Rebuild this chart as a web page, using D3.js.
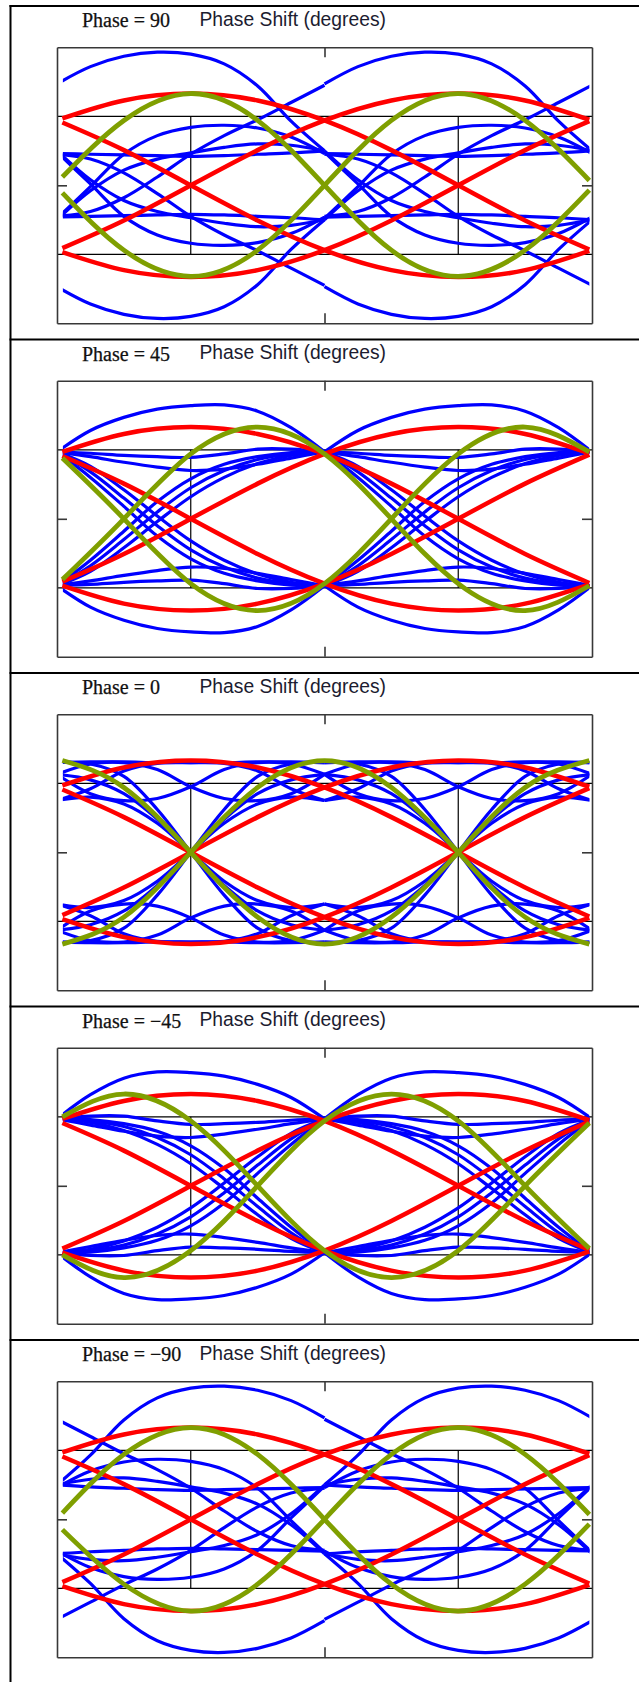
<!DOCTYPE html>
<html>
<head>
<meta charset="utf-8">
<script src="https://cdn.jsdelivr.net/npm/d3@7"></script>
<style>
  body { margin: 0; background: #fff; }
  .axis path, .axis line { stroke: #383838; stroke-width: 1.6; }
</style>
</head>
<body>
<div id="chart"></div>
<script>
// ---- data ----
var phaseLabels = ["Phase = 90", "Phase = 45", "Phase = 0", "Phase = \u221245", "Phase = \u221290"];
var axisTitle = "Phase Shift (degrees)";
var xTicks = [1], yTicks = [0], gridX = [0.5, 1.5], gridY = [-1, 1];

// red and green traces, sampled along the whole window
var tFull = [0.02, 0.25, 0.5, 0.75, 1, 1.25, 1.5, 1.75, 1.99];
var redTraces = [
  [0.97, 1.23, 1.33, 1.23, 0.94, 0.51, 0.00, -0.51, -0.93],
  [-0.91, -0.51, 0.00, 0.51, 0.94, 1.23, 1.33, 1.23, 0.95],
  [-0.97, -1.23, -1.33, -1.23, -0.94, -0.51, 0.00, 0.51, 0.93],
  [0.91, 0.51, 0.00, -0.51, -0.94, -1.23, -1.33, -1.23, -0.95]
];
var green90 = [[0.12, 0.94, 1.33, 0.94, 0.00, -0.94, -1.32, -0.94, -0.07],
               [-0.11, -0.94, -1.32, -0.94, 0.00, 0.94, 1.33, 0.94, 0.07]];
var green45 = [[-0.88, 0.00, 0.94, 1.33, 0.94, 0.00, -0.94, -1.33, -0.97],
               [0.88, 0.00, -0.94, -1.33, -0.94, 0.00, 0.94, 1.33, 0.97]];
var green0 = [[1.33, 0.94, 0.00, -0.94, -1.33, -0.94, 0.00, 0.94, 1.33],
              [-1.33, -0.94, 0.00, 0.94, 1.33, 0.94, 0.00, -0.94, -1.33]];
var greenM45 = [[1.00, 1.33, 0.94, 0.00, -0.94, -1.33, -0.94, 0.00, 0.91],
                [-1.00, -1.33, -0.94, 0.00, 0.94, 1.33, 0.94, 0.00, -0.91]];
var greenM90 = [[0.09, 0.94, 1.33, 0.94, 0.00, -0.94, -1.33, -0.94, -0.07],
                [-0.15, -0.94, -1.33, -0.94, 0.00, 0.94, 1.33, 0.94, 0.07]];

// blue traces repeat every symbol, so one symbol is sampled and laid twice
var uGrid = [0, 0.125, 0.25, 0.375, 0.5, 0.625, 0.75, 0.875, 1];
var symbolStarts = [0, 1];
var blue90 = [
  [1.47, 1.72, 1.87, 1.93, 1.90, 1.76, 1.44, 0.93, 0.50],
  [0.50, 0.08, -0.22, -0.38, -0.47, -0.55, -0.60, -0.58, -0.50],
  [0.48, 0.02, -0.45, -0.72, -0.84, -0.87, -0.83, -0.70, -0.46],
  [0.46, 0.45, 0.44, 0.43, 0.42, 0.43, 0.45, 0.47, 0.50],
  [-0.45, -0.38, -0.18, 0.12, 0.45, 0.72, 0.95, 1.20, 1.45],
  [-1.47, -1.72, -1.87, -1.93, -1.90, -1.76, -1.44, -0.93, -0.50],
  [-0.50, -0.08, 0.22, 0.38, 0.47, 0.55, 0.60, 0.58, 0.50],
  [-0.48, -0.02, 0.45, 0.72, 0.84, 0.87, 0.83, 0.70, 0.46],
  [-0.46, -0.45, -0.44, -0.43, -0.42, -0.43, -0.45, -0.47, -0.50],
  [0.45, 0.38, 0.18, -0.12, -0.45, -0.72, -0.95, -1.20, -1.45]
];
var blue45 = [
  [0.97, 1.28, 1.47, 1.59, 1.64, 1.65, 1.56, 1.32, 0.97],
  [0.97, 0.90, 0.82, 0.75, 0.70, 0.72, 0.79, 0.88, 0.97],
  [0.97, 0.95, 0.92, 0.90, 0.89, 0.94, 1.01, 1.01, 0.97],
  [0.97, 0.60, 0.18, -0.25, -0.58, -0.79, -0.90, -0.96, -0.97],
  [0.97, 0.68, 0.30, -0.10, -0.45, -0.70, -0.86, -0.94, -0.97],
  [0.97, 0.76, 0.42, 0.04, -0.32, -0.60, -0.80, -0.92, -0.97],
  [-0.97, -1.28, -1.47, -1.59, -1.64, -1.65, -1.56, -1.32, -0.97],
  [-0.97, -0.90, -0.82, -0.75, -0.70, -0.72, -0.79, -0.88, -0.97],
  [-0.97, -0.95, -0.92, -0.90, -0.89, -0.94, -1.01, -1.01, -0.97],
  [-0.97, -0.60, -0.18, 0.25, 0.58, 0.79, 0.90, 0.96, 0.97],
  [-0.97, -0.68, -0.30, 0.10, 0.45, 0.70, 0.86, 0.94, 0.97],
  [-0.97, -0.76, -0.42, -0.04, 0.32, 0.60, 0.80, 0.92, 0.97]
];
var blue0 = [
  [1.30, 1.31, 1.31, 1.30, 1.30, 1.30, 1.31, 1.31, 1.30],
  [0.75, 0.92, 1.18, 1.29, 1.30, 1.29, 1.18, 0.92, 0.75],
  [1.13, 1.28, 1.30, 1.20, 0.95, 0.78, 0.75, 0.85, 1.13],
  [1.13, 0.85, 0.75, 0.78, 0.95, 1.20, 1.30, 1.28, 1.13],
  [1.30, 1.28, 1.10, 0.62, 0.00, -0.62, -1.10, -1.28, -1.30],
  [1.13, 1.05, 0.85, 0.48, 0.00, -0.48, -0.85, -1.05, -1.13],
  [0.75, 0.80, 0.70, 0.42, 0.00, -0.42, -0.70, -0.80, -0.75],
  [-1.30, -1.31, -1.31, -1.30, -1.30, -1.30, -1.31, -1.31, -1.30],
  [-0.75, -0.92, -1.18, -1.29, -1.30, -1.29, -1.18, -0.92, -0.75],
  [-1.13, -1.28, -1.30, -1.20, -0.95, -0.78, -0.75, -0.85, -1.13],
  [-1.13, -0.85, -0.75, -0.78, -0.95, -1.20, -1.30, -1.28, -1.13],
  [-1.30, -1.28, -1.10, -0.62, 0.00, 0.62, 1.10, 1.28, 1.30],
  [-1.13, -1.05, -0.85, -0.48, 0.00, 0.48, 0.85, 1.05, 1.13],
  [-0.75, -0.80, -0.70, -0.42, 0.00, 0.42, 0.70, 0.80, 0.75]
];
var blueM45 = [
  [0.97, 1.32, 1.56, 1.65, 1.64, 1.59, 1.47, 1.28, 0.97],
  [0.97, 0.88, 0.79, 0.72, 0.70, 0.75, 0.82, 0.90, 0.97],
  [0.97, 1.01, 1.01, 0.94, 0.89, 0.90, 0.92, 0.95, 0.97],
  [-0.97, -0.96, -0.90, -0.79, -0.58, -0.25, 0.18, 0.60, 0.97],
  [-0.97, -0.94, -0.86, -0.70, -0.45, -0.10, 0.30, 0.68, 0.97],
  [-0.97, -0.92, -0.80, -0.60, -0.32, 0.04, 0.42, 0.76, 0.97],
  [-0.97, -1.32, -1.56, -1.65, -1.64, -1.59, -1.47, -1.28, -0.97],
  [-0.97, -0.88, -0.79, -0.72, -0.70, -0.75, -0.82, -0.90, -0.97],
  [-0.97, -1.01, -1.01, -0.94, -0.89, -0.90, -0.92, -0.95, -0.97],
  [0.97, 0.96, 0.90, 0.79, 0.58, 0.25, -0.18, -0.60, -0.97],
  [0.97, 0.94, 0.86, 0.70, 0.45, 0.10, -0.30, -0.68, -0.97],
  [0.97, 0.92, 0.80, 0.60, 0.32, -0.04, -0.42, -0.76, -0.97]
];
var blueM90 = [
  [0.50, 0.93, 1.44, 1.76, 1.90, 1.93, 1.87, 1.72, 1.47],
  [-0.50, -0.58, -0.60, -0.55, -0.47, -0.38, -0.22, 0.08, 0.50],
  [-0.46, -0.70, -0.83, -0.87, -0.84, -0.72, -0.45, 0.02, 0.48],
  [0.50, 0.47, 0.45, 0.43, 0.42, 0.43, 0.44, 0.45, 0.46],
  [1.45, 1.20, 0.95, 0.72, 0.45, 0.12, -0.18, -0.38, -0.45],
  [-0.50, -0.93, -1.44, -1.76, -1.90, -1.93, -1.87, -1.72, -1.47],
  [0.50, 0.58, 0.60, 0.55, 0.47, 0.38, 0.22, -0.08, -0.50],
  [0.46, 0.70, 0.83, 0.87, 0.84, 0.72, 0.45, -0.02, -0.48],
  [-0.50, -0.47, -0.45, -0.43, -0.42, -0.43, -0.44, -0.45, -0.46],
  [-1.45, -1.20, -0.95, -0.72, -0.45, -0.12, 0.18, 0.38, 0.45]
];

var panels = [
  {label: phaseLabels[0], blue: blue90, green: green90},
  {label: phaseLabels[1], blue: blue45, green: green45},
  {label: phaseLabels[2], blue: blue0, green: green0},
  {label: phaseLabels[3], blue: blueM45, green: greenM45},
  {label: phaseLabels[4], blue: blueM90, green: greenM90}
];

// ---- layout ----
var width = 639, height = 1682;
var firstTop = 6, panelStep = 333.5;

var xScale = d3.scaleLinear().domain([0, 2]).range([57, 592]);
var yScale = d3.scaleLinear().domain([-2, 2]).range([317.3, 41.3]);

var svg = d3.select("#chart").append("svg")
    .attr("width", width)
    .attr("height", height);

// table rules
svg.append("line")
   .attr("x1", 10.5).attr("x2", 10.5).attr("y1", 5).attr("y2", height)
   .attr("stroke", "#000").attr("stroke-width", 2);

var fullLine = d3.line()
    .x(function(d, i) { return xScale(tFull[i]); })
    .y(function(d) { return yScale(d); })
    .curve(d3.curveNatural);

panels.forEach(function(p, k) {
  var top = firstTop + k * panelStep;
  var g = svg.append("g").attr("transform", "translate(0," + top + ")");

  g.append("line")
   .attr("x1", 9.5).attr("x2", width).attr("y1", 0).attr("y2", 0)
   .attr("stroke", "#000").attr("stroke-width", 2);

  g.append("text")
   .attr("x", 82).attr("y", 21)
   .style("font-family", "'Liberation Serif', 'Times New Roman', serif")
   .style("font-size", "20px")
   .attr("fill", "#111")
   .attr("stroke", "#111").attr("stroke-width", 0.25)
   .text(p.label);

  g.append("text")
   .attr("x", 199.5).attr("y", 19.5)
   .style("font-family", "'Liberation Sans', Arial, sans-serif")
   .style("font-size", "19.3px")
   .attr("fill", "#1c1c30")
   .text(axisTitle);

  var clipId = "clip" + k;
  g.append("clipPath").attr("id", clipId)
   .append("rect")
   .attr("x", xScale(0.022)).attr("width", xScale(1.99) - xScale(0.022))
   .attr("y", 0).attr("height", 333);

  // grid
  g.append("g").selectAll("line").data(gridY).enter().append("line")
   .attr("x1", xScale(0)).attr("x2", xScale(2))
   .attr("y1", function(d) { return yScale(d); })
   .attr("y2", function(d) { return yScale(d); })
   .attr("stroke", "#000").attr("stroke-width", 1.2);
  g.append("g").selectAll("line").data(gridX).enter().append("line")
   .attr("x1", function(d) { return xScale(d); })
   .attr("x2", function(d) { return xScale(d); })
   .attr("y1", yScale(1)).attr("y2", yScale(-1))
   .attr("stroke", "#000").attr("stroke-width", 1.2);

  // blue
  var blueG = g.append("g").attr("clip-path", "url(#" + clipId + ")");
  symbolStarts.forEach(function(s) {
    var segLine = d3.line()
        .x(function(d, i) { return xScale(s + uGrid[i]); })
        .y(function(d) { return yScale(d); })
        .curve(d3.curveCatmullRom);
    blueG.selectAll(null).data(p.blue).enter().append("path")
     .attr("d", segLine)
     .attr("fill", "none").attr("stroke", "#0000ff").attr("stroke-width", 3.2);
  });

  // red
  g.append("g").selectAll("path").data(redTraces).enter().append("path")
   .attr("d", fullLine)
   .attr("fill", "none").attr("stroke", "#ff0000").attr("stroke-width", 4.5);

  // green
  g.append("g").selectAll("path").data(p.green).enter().append("path")
   .attr("d", fullLine)
   .attr("fill", "none").attr("stroke", "#7f9f00").attr("stroke-width", 4.8);

  // frame + centre ticks
  g.append("g").attr("class", "axis")
   .attr("transform", "translate(" + xScale(0) + ",0)")
   .call(d3.axisLeft(yScale).tickValues(yTicks).tickSize(-10).tickSizeOuter(0).tickFormat(""));
  g.append("g").attr("class", "axis")
   .attr("transform", "translate(" + xScale(2) + ",0)")
   .call(d3.axisRight(yScale).tickValues(yTicks).tickSize(-10).tickSizeOuter(0).tickFormat(""));
  g.append("g").attr("class", "axis")
   .attr("transform", "translate(0," + yScale(2) + ")")
   .call(d3.axisTop(xScale).tickValues(xTicks).tickSize(-10).tickSizeOuter(0).tickFormat(""));
  g.append("g").attr("class", "axis")
   .attr("transform", "translate(0," + yScale(-2) + ")")
   .call(d3.axisBottom(xScale).tickValues(xTicks).tickSize(-10).tickSizeOuter(0).tickFormat(""));
});
</script>
</body>
</html>
